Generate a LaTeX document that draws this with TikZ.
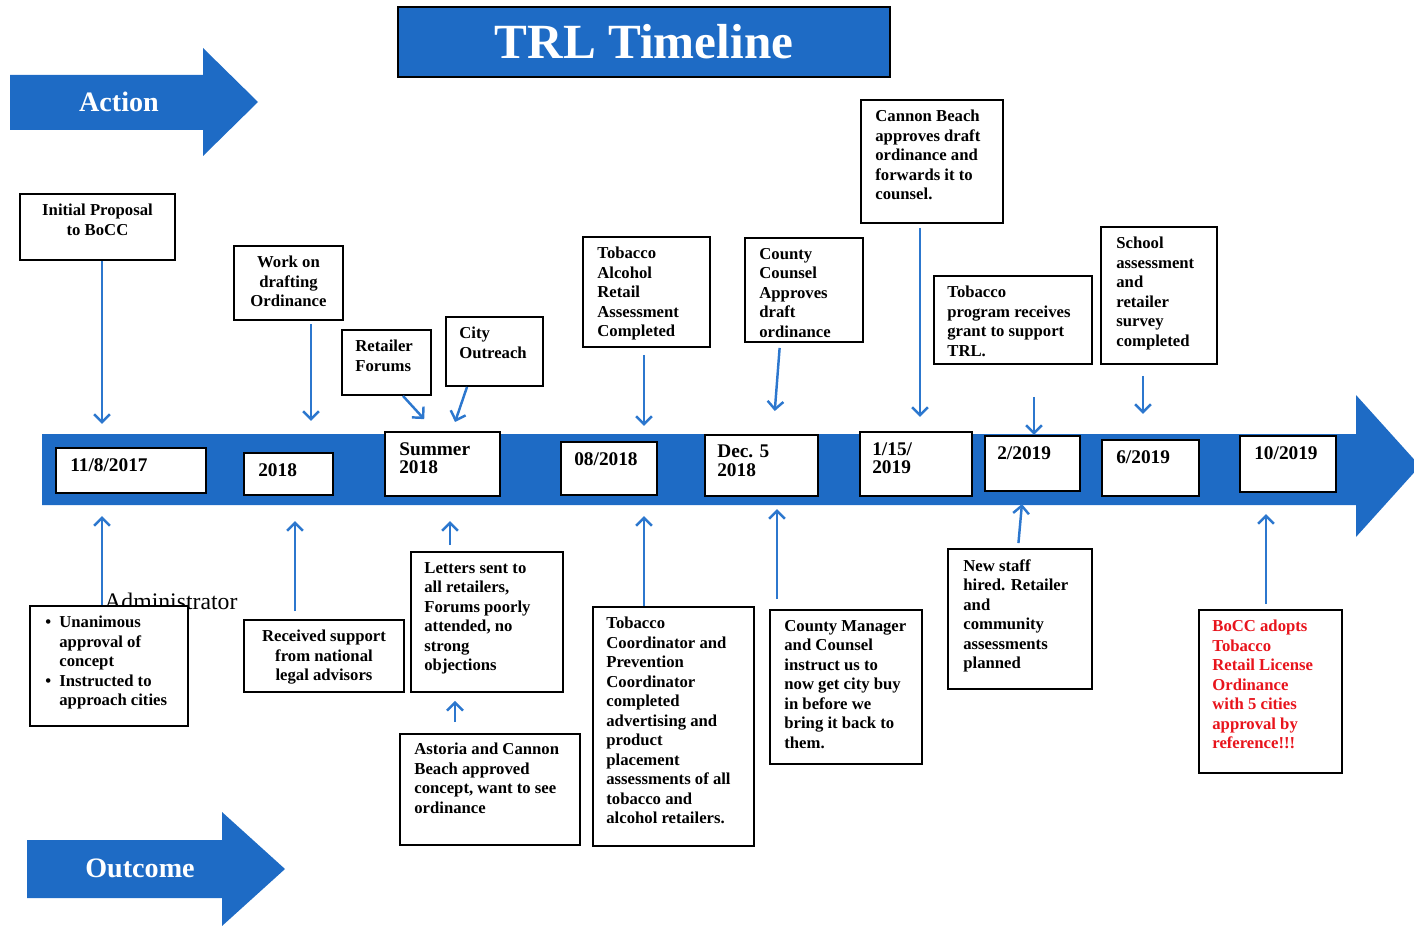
\documentclass[tikz,border=0pt]{standalone}
\usepackage{fontspec}
\setmainfont{Liberation Serif}
\usetikzlibrary{arrows.meta,calc,fit,positioning}
\definecolor{trlblue}{HTML}{1E6BC5}
\definecolor{linkblue}{HTML}{2C77CE}
\definecolor{bocred}{HTML}{E8141C}
\newcommand{\evbullet}{\makebox[0.28cm][l]{\textbullet}}
\newcommand{\evindent}{\hspace*{0.28cm}}
\tikzset{
    evbox/.style={draw=black, fill=white, line width=1.1pt, inner sep=0pt},
    datebox/.style={draw=black, fill=white, line width=1.2pt, inner sep=0pt},
    evtext/.style={anchor=north west, align=left, inner sep=0pt,
        font={\bfseries\fontsize{9.5}{11.1}\selectfont}},
    evctext/.style={evtext, anchor=north, align=center},
    datetext/.style={anchor=north west, align=left, inner sep=0pt,
        font={\bfseries\fontsize{11}{10.5}\selectfont}},
    bannertext/.style={text=white, font={\bfseries\fontsize{16}{19}\selectfont}},
    evarrow/.style={draw=linkblue, line width=1.4pt, -{Straight Barb[length=4.5pt,width=9pt]}},
}

\begin{document}
\begin{tikzpicture}[x=0.02cm, y=-0.02cm]
\useasboundingbox (0,0) rectangle (1414,926);
\clip (0,0) rectangle (1414,926);

\node[fill=trlblue, draw=black, line width=0.8pt, minimum width=9.84cm, minimum height=1.4cm,
    text=white, font=\bfseries\fontsize{28}{32}\selectfont] (title) at (644,42) {TRL Timeline};

\fill[trlblue] (10,75) -- (203,75) -- (203,48) -- (258,102) -- (203,156) -- (203,130) -- (10,130) -- cycle;
\node[bannertext] (action) at (119,102) {Action};
\fill[trlblue] (27,840) -- (222,840) -- (222,812) -- (285,869) -- (222,926) -- (222,898) -- (27,898) -- cycle;
\node[bannertext] (outcome) at (140,868) {Outcome};
\fill[trlblue] (42,434) -- (1356,434) -- (1356,395) -- (1420,466) -- (1356,537) -- (1356,505) -- (42,505) -- cycle;

\node[datebox, fit={(56,448) (206,493)}] (d1) {};
\node[datetext] (d1t) at ($(d1.north west)+(15,11)$) {11/8/2017};
\node[datebox, fit={(244,453) (333,495)}] (d2) {};
\node[datetext] (d2t) at ($(d2.north west)+(15,11)$) {2018};
\node[datebox, fit={(385,432) (500,496)}] (d3) {};
\node[datetext] (d3t) at ($(d3.north west)+(15,11)$) {Summer\\2018};
\node[datebox, fit={(561,442) (657,495)}] (d4) {};
\node[datetext] (d4t) at ($(d4.north west)+(14,11)$) {08/2018};
\node[datebox, fit={(705,435) (818,496)}] (d5) {};
\node[datetext] (d5t) at ($(d5.north west)+(13,11)$) {Dec. 5\\2018};
\node[datebox, fit={(860,432) (972,496)}] (d6) {};
\node[datetext] (d6t) at ($(d6.north west)+(13,11)$) {1/15/\\2019};
\node[datebox, fit={(985,436) (1080,491)}] (d7) {};
\node[datetext] (d7t) at ($(d7.north west)+(13,11)$) {2/2019};
\node[datebox, fit={(1102,440) (1199,496)}] (d8) {};
\node[datetext] (d8t) at ($(d8.north west)+(15,11)$) {6/2019};
\node[datebox, fit={(1240,436) (1336,492)}] (d9) {};
\node[datetext] (d9t) at ($(d9.north west)+(15,11)$) {10/2019};

\node[evbox, fit={(20,194) (175,260)}] (a1) {};
\node[evctext] (a1t) at ($(a1.north)+(0,11)$) {Initial Proposal\\to BoCC};
\node[evbox, fit={(234,246) (343,320)}] (a2) {};
\node[evctext] (a2t) at ($(a2.north)+(0,11)$) {Work on\\drafting\\Ordinance};
\node[evbox, fit={(342,330) (431,395)}] (a3) {};
\node[evtext] (a3t) at ($(a3.north west)+(14,11)$) {Retailer\\Forums};
\node[evbox, fit={(446,317) (543,386)}] (a4) {};
\node[evtext] (a4t) at ($(a4.north west)+(14,11)$) {City\\Outreach};
\node[evbox, fit={(583,237) (710,347)}] (a5) {};
\node[evtext] (a5t) at ($(a5.north west)+(15,11)$) {Tobacco\\Alcohol\\Retail\\Assessment\\Completed};
\node[evbox, fit={(745,238) (863,342)}] (a6) {};
\node[evtext] (a6t) at ($(a6.north west)+(15,11)$) {County\\Counsel\\Approves\\draft\\ordinance};
\node[evbox, fit={(861,100) (1003,223)}] (a7) {};
\node[evtext] (a7t) at ($(a7.north west)+(15,11)$) {Cannon Beach\\approves draft\\ordinance and\\forwards it to\\counsel.};
\node[evbox, fit={(934,276) (1092,364)}] (a8) {};
\node[evtext] (a8t) at ($(a8.north west)+(14,11)$) {Tobacco\\program receives\\grant to support\\TRL.};
\node[evbox, fit={(1101,227) (1217,364)}] (a9) {};
\node[evtext] (a9t) at ($(a9.north west)+(16,11)$) {School\\assessment\\and\\retailer\\survey\\completed};

\node[anchor=base west, inner sep=0pt, font=\fontsize{13.5}{16}\selectfont] (admin) at (104,609) {Administrator};
\node[evbox, fit={(30,606) (188,726)}] (b1) {};
\node[evtext] (b1t) at ($(b1.north west)+(16,11)$) {\evbullet Unanimous\\\evindent approval of\\\evindent concept\\\evbullet Instructed to\\\evindent approach cities};
\node[evbox, fit={(244,620) (404,692)}] (b2) {};
\node[evctext] (b2t) at ($(b2.north)+(0,11)$) {Received support\\from national\\legal advisors};
\node[evbox, fit={(411,552) (563,692)}] (b3) {};
\node[evtext] (b3t) at ($(b3.north west)+(14,11)$) {Letters sent to\\all retailers,\\Forums poorly\\attended, no\\strong\\objections};
\node[evbox, fit={(400,734) (580,845)}] (b4) {};
\node[evtext] (b4t) at ($(b4.north west)+(15,10)$) {Astoria and Cannon\\Beach approved\\concept, want to see\\ordinance};
\node[evbox, fit={(593,607) (754,846)}] (b5) {};
\node[evtext] (b5t) at ($(b5.north west)+(14,11)$) {Tobacco\\Coordinator and\\Prevention\\Coordinator\\completed\\advertising and\\product\\placement\\assessments of all\\tobacco and\\alcohol retailers.};
\node[evbox, fit={(770,610) (922,764)}] (b6) {};
\node[evtext] (b6t) at ($(b6.north west)+(15,11)$) {County Manager\\and Counsel\\instruct us to\\now get city buy\\in before we\\bring it back to\\them.};
\node[evbox, fit={(948,549) (1092,689)}] (b7) {};
\node[evtext] (b7t) at ($(b7.north west)+(16,11)$) {New staff\\hired. Retailer\\and\\community\\assessments\\planned};
\node[evbox, fit={(1199,610) (1342,773)}] (b8) {};
\node[evtext, text=bocred] (b8t) at ($(b8.north west)+(14,11)$) {BoCC adopts\\Tobacco\\Retail License\\Ordinance\\with 5 cities\\approval by\\reference!!!};

\draw[evarrow, shorten >=0.46cm] (a1.south -| 102,0) -- (d1.north -| 102,0);
\draw[evarrow, shorten <=0.06cm, shorten >=0.62cm] (a2.south -| 311,0) -- (d2.north -| 311,0);
\draw[evarrow, shorten >=0.32cm] (a3.south -| 403,0) -- (d3.north -| 435,0);
\draw[evarrow, shorten >=0.19cm] (a4.south -| 467,0) -- (d3.north -| 452,0);
\draw[evarrow, shorten <=0.14cm, shorten >=0.3cm] (a5.south -| 644,0) -- (d4.north -| 644,0);
\draw[evarrow, shorten <=0.1cm, shorten >=0.46cm] (a6.south -| 780,0) -- (d5.north -| 773,0);
\draw[evarrow, shorten <=0.08cm, shorten >=0.28cm] (a7.south -| 920,0) -- (d6.north -| 920,0);
\draw[evarrow, shorten <=0.64cm] (a8.south -| 1034,0) -- (d7.north -| 1034,0);
\draw[evarrow, shorten <=0.22cm, shorten >=0.5cm] (a9.south -| 1143,0) -- (d8.north -| 1143,0);

\draw[evarrow, shorten >=0.44cm] (b1.north -| 102,0) -- (d1.south -| 102,0);
\draw[evarrow, shorten <=0.16cm, shorten >=0.5cm] (b2.north -| 295,0) -- (d2.south -| 295,0);
\draw[evarrow, shorten <=0.12cm, shorten >=0.48cm] (b3.north -| 450,0) -- (d3.south -| 450,0);
\draw[evarrow, shorten <=0.22cm, shorten >=0.16cm] (b4.north -| 455,0) -- (b3.south -| 455,0);
\draw[evarrow, shorten >=0.4cm] (b5.north -| 644,0) -- (d4.south -| 644,0);
\draw[evarrow, shorten <=0.2cm, shorten >=0.24cm] (b6.north -| 777,0) -- (d5.south -| 777,0);
\draw[evarrow, shorten <=0.1cm, shorten >=0.24cm] (b7.north -| 1018,0) -- (d7.south -| 1023,0);
\draw[evarrow, shorten <=0.1cm, shorten >=0.42cm] (b8.north -| 1266,0) -- (d9.south -| 1266,0);
\end{tikzpicture}
\end{document}
